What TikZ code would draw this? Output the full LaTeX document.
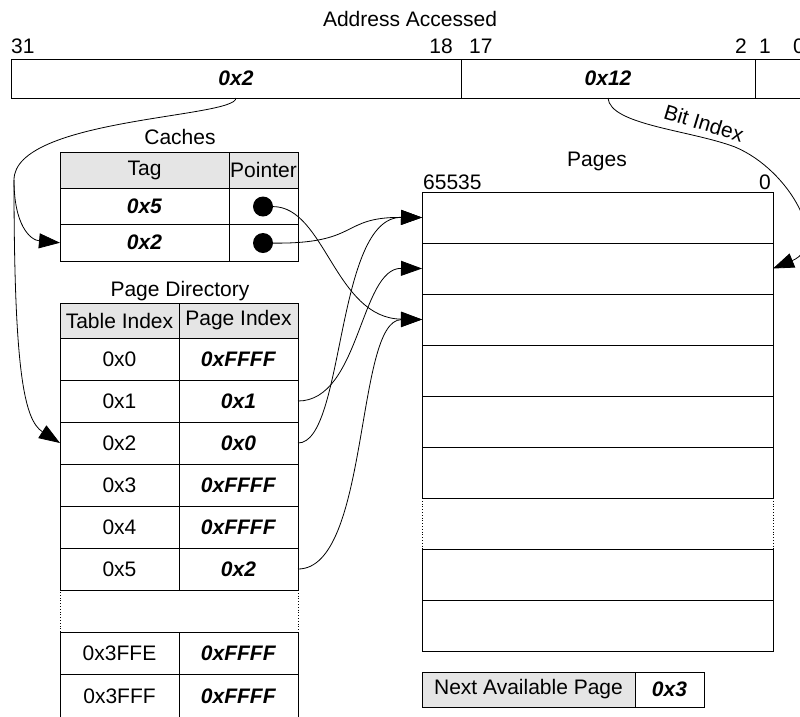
\documentclass[tikz,border=0pt]{standalone}
\usepackage{fontspec}
\setmainfont{Liberation Sans}
\usetikzlibrary{arrows.meta}

\newcommand{\val}[1]{\textbf{\textit{#1}}}

\begin{document}
\begin{tikzpicture}[x=1pt,y=-1pt,
  font=\fontsize{21}{25}\selectfont,
  cell/.style={draw=black, line width=0.9pt, fill=white, rectangle,
               inner sep=0pt, outer sep=0pt},
  headcell/.style={cell, fill=gray!20},
  label/.style={inner sep=0pt},
  link/.style={draw=black, line width=0.8pt},
  ptr/.style={link, -{Triangle[length=21pt,width=15pt]}},
  bullet/.style={circle, fill=black, minimum size=20pt, inner sep=0pt}]

\useasboundingbox (0,0) rectangle (800,716);
\clip (0,0) rectangle (800,716);

% ---------- address word ----------
\node[label] (addrtitle) at (410,19) {Address Accessed};
\node[cell, minimum width=450pt, minimum height=39pt] (f1) at (236,78.5) {\val{0x2}};
\node[cell, minimum width=294pt, minimum height=39pt] (f2) at (608,78.5) {\val{0x12}};
\node[cell, minimum width=100pt, minimum height=39pt] (f3) at (805,78.5) {};
\node[label, anchor=west] (b31) at (11,46) {31};
\node[label, anchor=east] (b18) at (453,46) {18};
\node[label, anchor=west] (b17) at (469,46) {17};
\node[label, anchor=east] (b2)  at (747,46) {2};
\node[label, anchor=west] (b1)  at (759,46) {1};
\node[label, anchor=west] (b0)  at (793,46) {0};

% ---------- caches ----------
\node[label] (ctitle) at (180,137) {Caches};
\node[headcell, minimum width=169pt, minimum height=36pt] (ch1) at (144.5,170) {Tag};
\node[headcell, minimum width=69pt, minimum height=36pt] (ch2) at (263.5,170) {Pointer};
\node[cell, minimum width=169pt, minimum height=36.5pt] (c1t) at (144.5,206.25) {\val{0x5}};
\node[cell, minimum width=69pt, minimum height=36.5pt] (c1p) at (263.5,206.25) {};
\node[cell, minimum width=169pt, minimum height=36.5pt] (c2t) at (144.5,242.75) {\val{0x2}};
\node[cell, minimum width=69pt, minimum height=36.5pt] (c2p) at (263.5,242.75) {};
\node[bullet] (dot1) at (263,206.5) {};
\node[bullet] (dot2) at (263,243) {};

% ---------- page directory ----------
\node[label] (dtitle) at (180,291) {Page Directory};
\node[headcell, minimum width=119pt, minimum height=35pt] (dh1) at (119.5,320.5) {Table Index};
\node[headcell, minimum width=119pt, minimum height=35pt] (dh2) at (238.5,320.5) {Page Index};
\foreach \i/\idx/\pg [count=\k from 0] in {0/0x0/0xFFFF, 1/0x1/0x1, 2/0x2/0x0,
                                           3/0x3/0xFFFF, 4/0x4/0xFFFF, 5/0x5/0x2} {
  \node[cell, minimum width=119pt, minimum height=42pt] (d\i i) at (119.5,359+42*\k) {\idx};
  \node[cell, minimum width=119pt, minimum height=42pt] (d\i v) at (238.5,359+42*\k) {\val{\pg}};
}
\draw[line width=0.8pt, dotted] (60,632) -- (60,590) -- (298,590) -- (298,632);
\node[cell, minimum width=119pt, minimum height=42pt] (dEi) at (119.5,653) {0x3FFE};
\node[cell, minimum width=119pt, minimum height=42pt] (dEv) at (238.5,653) {\val{0xFFFF}};
\node[cell, minimum width=119pt, minimum height=44pt] (dFi) at (119.5,696) {0x3FFF};
\node[cell, minimum width=119pt, minimum height=44pt] (dFv) at (238.5,696) {\val{0xFFFF}};

% ---------- pages ----------
\node[label] (ptitle) at (597,161) {Pages};
\node[label, anchor=west] (plo) at (423,182) {65535};
\node[label, anchor=east] (phi) at (771,182) {0};
\draw[line width=0.8pt, dotted] (422,498) -- (422,549) (773,498) -- (773,549);
\foreach \k in {1,2,3,4,5,6,8,9} {
  \node[cell, minimum width=351pt, minimum height=51pt] (p\k) at (597.5,166.5+51*\k) {};
}

% ---------- next free page ----------
\node[headcell, minimum width=213pt, minimum height=35pt] (nfl) at (528.5,689.5) {Next Available Page};
\node[cell, minimum width=69pt, minimum height=35pt] (nfv) at (669.5,689.5) {\val{0x3}};

% ---------- connectors ----------
\coordinate (split) at (14,180);
\draw[link] (f1.south) .. controls (236,118) and (14,118) .. (split);
\draw[ptr] (split) .. controls (14,225) and (30,240) .. (c2t.west);
\draw[ptr] (split) .. controls (14,370) and (24,420) .. (d2i.west);

\draw[ptr] (f2.south) .. controls (610,125) and (690,130) .. (735,147)
  .. controls (790,170) and (830,245) .. (p2.east);
\node[label, rotate=-17] (bitidx) at (704,123) {Bit Index};

\draw[ptr] (dot1) .. controls (325,207) and (335,318) .. (p3.west);
\draw[ptr] (dot2) .. controls (360,244) and (340,217) .. (p1.west);
\draw[ptr] (d1v.east) .. controls (360,401) and (360,268) .. (p2.west);
\draw[ptr] (d2v.east) .. controls (345,443) and (335,217) .. (p1.west);
\draw[ptr] (d5v.east) .. controls (370,569) and (355,320) .. (p3.west);

\end{tikzpicture}
\end{document}
